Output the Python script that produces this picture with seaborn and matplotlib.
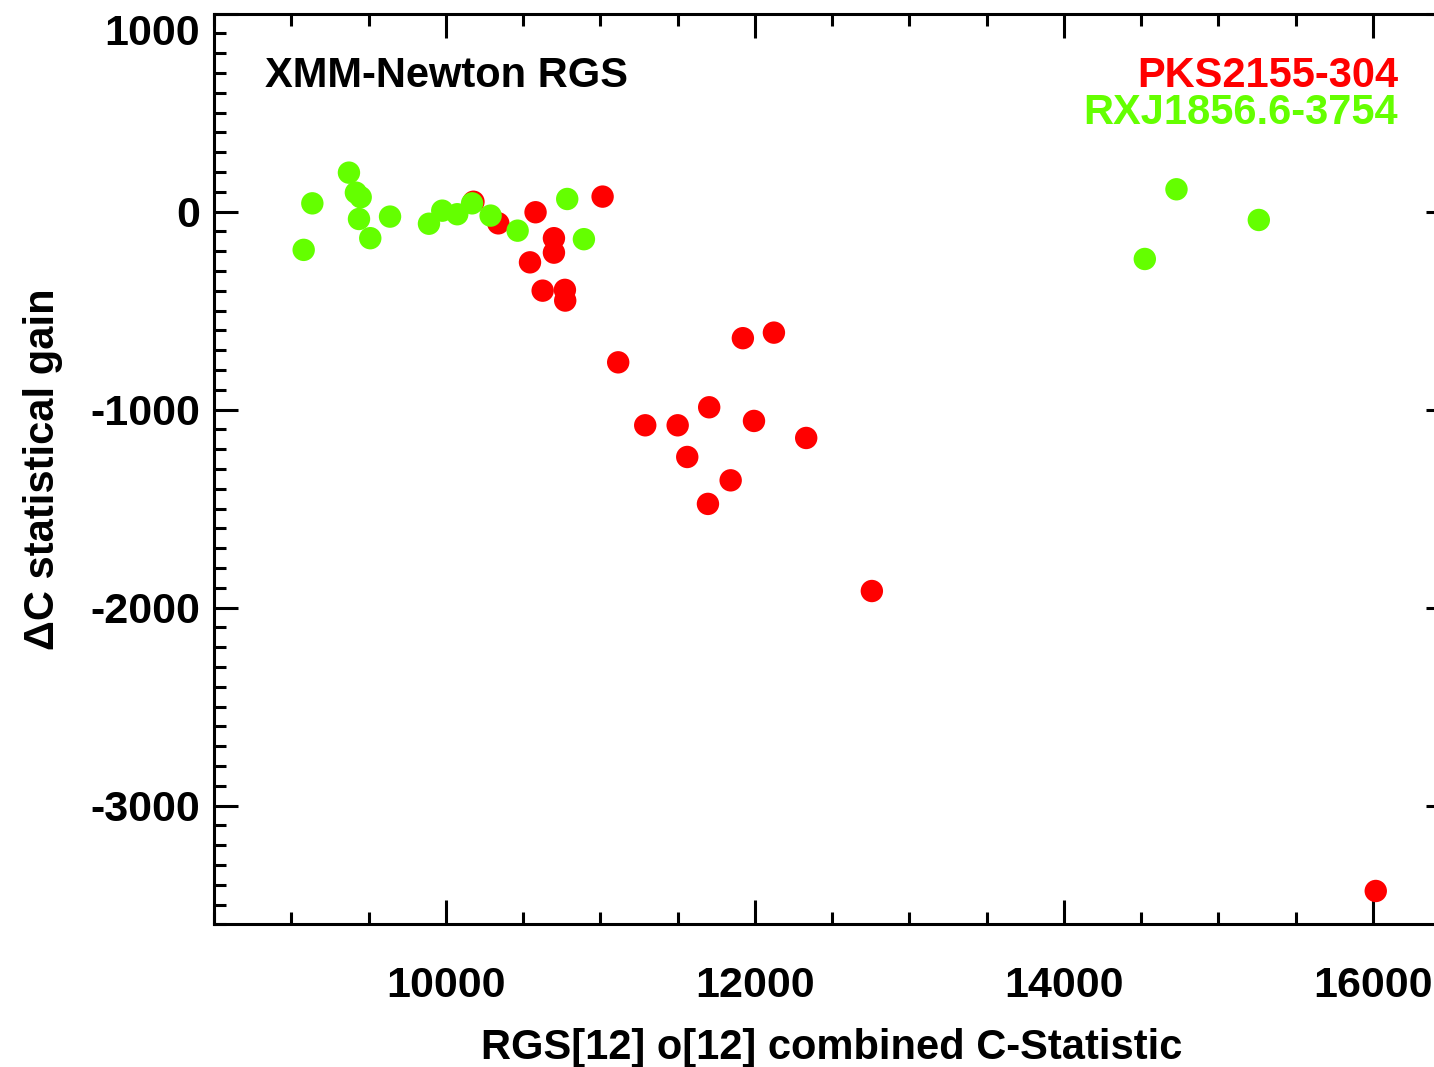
import matplotlib
matplotlib.use("Agg")
import matplotlib.pyplot as plt
import seaborn as sns
import pandas as pd
from matplotlib.ticker import MultipleLocator

# ---- data ----
pks_x = [10178, 10339, 10580, 11014, 10699, 10699, 10544, 10626, 10770, 10772,
         11115, 11290, 11500, 11704, 11562, 11843, 11696, 11922, 12123, 11994,
         12332, 12757, 16019]
pks_y = [50, -59, -3, 76, -134, -207, -256, -399, -395, -449,
         -761, -1079, -1079, -988, -1239, -1357, -1476, -639, -611, -1057,
         -1143, -1916, -3431]

rxj_x = [9079, 9135, 9372, 9417, 9448, 9437, 9510, 9638, 9890, 9976,
         10073, 10169, 10289, 10464, 10785, 10893, 14729, 15262, 14524]
rxj_y = [-193, 42, 197, 96, 73, -37, -134, -25, -61, 5,
         -13, 42, -20, -96, 64, -139, 113, -42, -239]

sources = ["PKS2155-304", "RXJ1856.6-3754"]
colors = {"PKS2155-304": "#ff0000", "RXJ1856.6-3754": "#64ff00"}

x_ticks = [10000, 12000, 14000, 16000]
y_ticks = [-3000, -2000, -1000, 0, 1000]

df = pd.DataFrame({
    "cstat": pks_x + rxj_x,
    "gain": pks_y + rxj_y,
    "source": [sources[0]] * len(pks_x) + [sources[1]] * len(rxj_x),
})

sns.set_theme(style="ticks")
plt.rcParams["font.family"] = ["Liberation Sans", "DejaVu Sans"]
plt.rcParams["font.weight"] = "bold"
plt.rcParams["axes.unicode_minus"] = False
plt.rcParams["text.color"] = "black"
plt.rcParams["axes.labelcolor"] = "black"
plt.rcParams["xtick.color"] = "black"
plt.rcParams["ytick.color"] = "black"

fig = plt.figure(figsize=(14.34, 10.67), dpi=100)
ax = fig.add_axes([0.1494, 0.1336, 0.8618, 0.8536])

sns.scatterplot(data=df, x="cstat", y="gain", hue="source", hue_order=sources,
                palette=colors, s=260, linewidth=0, edgecolor="none",
                legend=False, ax=ax, zorder=3)

ax.set_xlim(8500, 16500)
ax.set_ylim(-3600, 1000)
ax.set_xticks(x_ticks)
ax.set_yticks(y_ticks)
ax.xaxis.set_minor_locator(MultipleLocator(500))
ax.yaxis.set_minor_locator(MultipleLocator(100))

for sp in ax.spines.values():
    sp.set_linewidth(2.2)
    sp.set_color("black")

ax.tick_params(which="both", direction="in", top=True, right=True,
               width=2.2, color="black", labelcolor="black")
ax.tick_params(which="major", length=17)
ax.tick_params(which="minor", length=8.5)
ax.tick_params(axis="x", which="major", pad=30, labelsize=31)
ax.tick_params(axis="y", which="major", pad=10, labelsize=31)
for lab in ax.get_xticklabels() + ax.get_yticklabels():
    lab.set_fontweight("bold")
ylabs = ax.get_yticklabels()
ylabs[-1].set_va("top")

ax.set_xlabel("RGS[12] o[12] combined C-Statistic", fontsize=30,
              fontweight="bold", labelpad=16, color="black")
ax.set_ylabel("ΔC statistical gain", fontsize=30, fontweight="bold",
              labelpad=20, color="black")

ax.text(0.041, 0.932, "XMM-Newton RGS", transform=ax.transAxes, fontsize=30,
        fontweight="bold", color="black", va="center", ha="left")
ax.text(0.958, 0.932, "PKS2155-304", transform=ax.transAxes, fontsize=30,
        fontweight="bold", color=colors["PKS2155-304"], va="center", ha="right")
ax.text(0.958, 0.891, "RXJ1856.6-3754", transform=ax.transAxes, fontsize=30,
        fontweight="bold", color=colors["RXJ1856.6-3754"], va="center", ha="right")

fig.savefig("out.png", dpi=100)
